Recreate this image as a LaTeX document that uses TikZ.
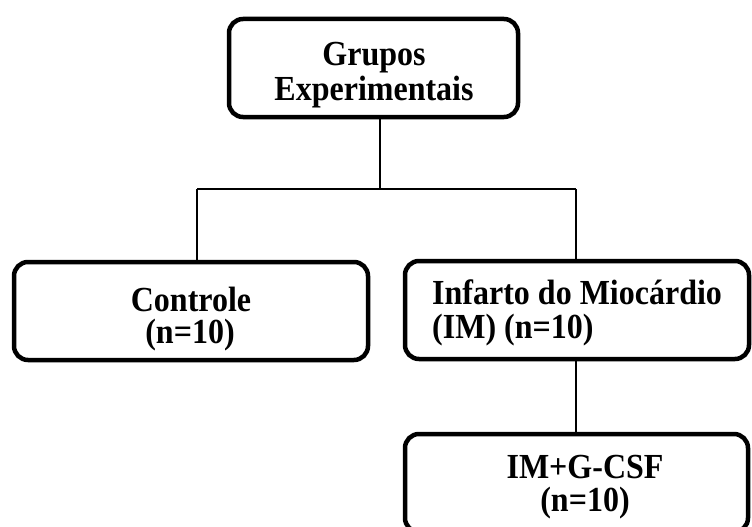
\documentclass[tikz,border=0pt]{standalone}
\usepackage{fontspec}
\setmainfont{Liberation Serif}
\newcommand\talltext[1]{\scalebox{1}[1.1]{#1}}
\begin{document}
\begin{tikzpicture}[x=1pt,y=-1pt,
  box/.style={draw, line width=4.5pt, rounded corners=14pt, inner sep=0pt, fill=none},
  conn/.style={line width=1.8pt},
  txt/.style={font=\fontsize{32}{32}\selectfont\bfseries, inner sep=0pt}]
\useasboundingbox (0,0) rectangle (752,527);
\clip (0,0) rectangle (752,527);
% boxes
\node[box, minimum width=289pt, minimum height=98pt] (top) at (373.5,68) {};
\node[box, minimum width=354pt, minimum height=98pt] (left) at (191,311) {};
\node[box, minimum width=344pt, minimum height=98pt] (right) at (577,310) {};
\node[box, minimum width=343pt, minimum height=98pt] (bottom) at (576.5,483) {};
% texts
\node[txt, anchor=base] (t1) at (374,66) {\talltext{Grupos}};
\node[txt, anchor=base] (t2) at (374,100) {\talltext{Experimentais}};
\node[txt, anchor=base] (l1) at (191,311) {\talltext{Controle}};
\node[txt, anchor=base] (l2) at (190,343) {\talltext{(n=10)}};
\node[txt, anchor=base west] (r1) at (432,304) {\talltext{Infarto do Miocárdio}};
\node[txt, anchor=base west] (r2) at (432,338) {\talltext{(IM) (n=10)}};
\node[txt, anchor=base] (b1) at (585,478) {\talltext{IM+G-CSF}};
\node[txt, anchor=base] (b2) at (585,511) {\talltext{(n=10)}};
% connectors
\coordinate (hub) at (380,189);
\coordinate (jl) at (197,189);
\coordinate (jr) at (576,189);
\draw[conn] (top.south -| hub) -- (hub);
\draw[conn] (jl) -- (jr);
\draw[conn] (jl) -- (jl |- left.north);
\draw[conn] (jr) -- (jr |- right.north);
\draw[conn] (right.south -| jr) -- (bottom.north -| jr);
\end{tikzpicture}
\end{document}
